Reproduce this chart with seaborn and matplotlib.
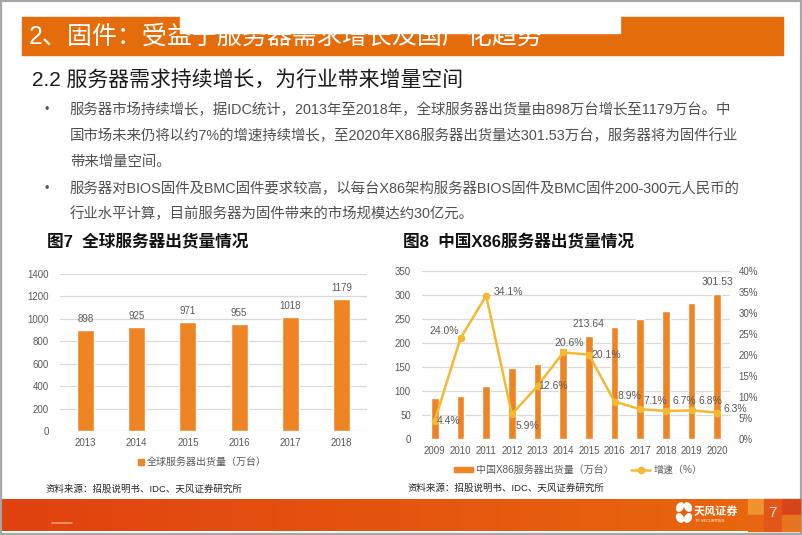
import numpy as np
import matplotlib.pyplot as plt
import seaborn as sns
from matplotlib.patches import Rectangle, Patch, Ellipse
from matplotlib.lines import Line2D
from matplotlib.colors import LinearSegmentedColormap
from matplotlib.ticker import PercentFormatter

sns.set_theme(style="white")
# theme resets the family, so set the fallback list afterwards
plt.rcParams["font.family"] = ["Liberation Sans", "Noto Sans CJK SC", "DejaVu Sans"]

# --- data ---
global_years = ["2013", "2014", "2015", "2016", "2017", "2018"]
global_units = [898, 925, 971, 955, 1018, 1179]

cn_years = ["2009", "2010", "2011", "2012", "2013", "2014",
            "2015", "2016", "2017", "2018", "2019", "2020"]
cn_units = [86, 89, 110, 148, 157, 189, 213.64, 232.7, 249.2, 265.9, 284.0, 301.53]
cn_unit_labels = ["", "", "", "", "", "", "213.64", "", "", "", "", "301.53"]
cn_growth = [4.4, 24.0, 34.1, 5.9, 12.6, 20.6, 20.1, 8.9, 7.1, 6.7, 6.8, 6.3]

title = "2、固件：受益于服务器需求增长及国产化趋势"
subtitle = "2.2 服务器需求持续增长，为行业带来增量空间"
bullet_lines = [
    "服务器市场持续增长，据IDC统计，2013年至2018年，全球服务器出货量由898万台增长至1179万台。中",
    "国市场未来仍将以约7%的增速持续增长，至2020年X86服务器出货量达301.53万台，服务器将为固件行业",
    "带来增量空间。",
    "服务器对BIOS固件及BMC固件要求较高，以每台X86架构服务器BIOS固件及BMC固件200-300元人民币的",
    "行业水平计算，目前服务器为固件带来的市场规模达约30亿元。",
]
source = "资料来源：招股说明书、IDC、天风证券研究所"

# colours
orange = "#EF8425"
gold = "#F4B932"
gray = "#595959"
grid_c = "#D9D9D9"

W, H = 802, 535
fig = plt.figure(figsize=(W / 100, H / 100), dpi=100)


def box(l, t, r, b):
    # pixel box (top-left origin) -> figure fraction rect
    return [l / W, 1 - b / H, (r - l) / W, (b - t) / H]


# background layer in pixel coords
bg = fig.add_axes([0, 0, 1, 1], zorder=-5)
bg.set_xlim(0, W)
bg.set_ylim(H, 0)
bg.axis("off")

bg.add_patch(Rectangle((0.8, 0.8), W - 1.6, H - 1.6, fill=False, ec="#A6A6A6", lw=1.6))

# header bar (with the white box hiding part of the text, as on the slide)
bg.add_patch(Rectangle((22, 17), 761, 38, color="#E46C0A", zorder=1))
bg.text(29, 37, title, color="white", fontsize=18, va="center", zorder=2)
bg.add_patch(Rectangle((180, 16), 440, 16.5, color="white", zorder=3))

bg.text(32, 80, subtitle, color="#1A1A1A", fontsize=15, va="center")

line_y = [110, 136, 162, 189, 214]
for i, (txt, y) in enumerate(zip(bullet_lines, line_y)):
    if i in (0, 3):
        bg.text(47, y, "•", color=gray, fontsize=9, va="center", ha="center")
    bg.text(70, y, txt, color="#505050", fontsize=10.4, va="center")

bg.text(47, 242, "图7  全球服务器出货量情况", fontsize=12, fontweight="bold", va="center", color="#111111")
bg.text(403, 242, "图8  中国X86服务器出货量情况", fontsize=12, fontweight="bold", va="center", color="#111111")
bg.text(46, 489, source, fontsize=6.8, va="center", color="#262626")
bg.text(407, 488, source, fontsize=6.8, va="center", color="#262626")

# footer band
cmap = LinearSegmentedColormap.from_list("foot", ["#E1420F", "#E55510", "#E9690C"])
bg.imshow(np.linspace(0, 1, 256)[None, :], cmap=cmap, extent=[2, 800, 531, 499], aspect="auto", zorder=1)
bg.plot([52, 72], [523, 523], color="#F4A070", lw=1.2, zorder=2)
for x0, y0, w, h, c in [(748, 499, 16, 16, "#F0922E"), (748, 515, 16, 16, "#E86514"),
                        (764, 499, 18, 32, "#E3561A"), (782, 499, 18, 16, "#D9451A"),
                        (782, 515, 18, 16, "#E8741E")]:
    bg.add_patch(Rectangle((x0, y0), w, h, color=c, zorder=2))
bg.text(772, 513, "7", color="#FBE3CF", fontsize=11, ha="center", va="center", zorder=3)
for cx, cy, ew, eh, ang in [(680, 507, 6, 9, 30), (688, 507, 6, 9, -30),
                            (680, 518, 6, 9, -30), (688, 518, 6, 9, 30)]:
    bg.add_patch(Ellipse((cx, cy), ew, eh, angle=ang, color="white", zorder=3))
bg.text(694, 511, "天风证券", color="white", fontsize=8, fontweight="bold", va="center", zorder=3)
bg.text(695, 521, "TF SECURITIES", color="white", fontsize=2.8, va="center", zorder=3)

# --- chart 7: global shipments ---
ax1 = fig.add_axes(box(60, 274, 367, 431))
sns.barplot(x=global_years, y=global_units, color=orange, saturation=1, width=0.33, ax=ax1)
ax1.set_xlim(-0.5, len(global_years) - 0.5)
ax1.set_ylim(0, 1400)
ax1.set_yticks(range(0, 1401, 200))
ax1.grid(axis="y", color=grid_c, lw=0.9)
ax1.set_axisbelow(True)
for s in ax1.spines.values():
    s.set_visible(False)
ax1.tick_params(axis="both", length=0, labelsize=7, labelcolor=gray)
ax1.tick_params(axis="y", pad=8)
ax1.tick_params(axis="x", pad=5)
ax1.set_xlabel("")
ax1.set_ylabel("")
for i, v in enumerate(global_units):
    ax1.annotate(f"{v}", (i, v), xytext=(0, 11), textcoords="offset pixels",
                 ha="center", va="center", fontsize=7, color=gray)

fig.legend([Line2D([], [], marker="s", ls="none", color=orange, markersize=5)],
           ["全球服务器出货量（万台）"], loc="center", bbox_to_anchor=(202 / W, 1 - 462 / H),
           frameon=False, fontsize=7.2, labelcolor=gray, handletextpad=0.2, handlelength=0.8)

# --- chart 8: China X86 shipments + growth ---
ax2 = fig.add_axes(box(422, 271, 730, 439))
sns.barplot(x=cn_years, y=cn_units, color=orange, saturation=1, width=0.31, ax=ax2)
ax2.set_ylim(0, 350)
ax2.set_yticks(range(0, 351, 50))
ax2.grid(axis="y", color=grid_c, lw=0.9)
ax2.set_axisbelow(True)
for s in ax2.spines.values():
    s.set_visible(False)
ax2.tick_params(axis="both", length=0, labelsize=7, labelcolor=gray)
ax2.tick_params(axis="y", pad=8)
ax2.tick_params(axis="x", pad=5)
ax2.set_xlabel("")
ax2.set_ylabel("")
for i, (v, lab) in enumerate(zip(cn_units, cn_unit_labels)):
    if lab:
        ax2.annotate(lab, (i, v), xytext=(0, 12), textcoords="offset pixels",
                     ha="center", va="center", fontsize=7.5, color=gray)

ax2r = ax2.twinx()
growth = np.array(cn_growth) / 100
sns.lineplot(x=np.arange(len(cn_years)), y=growth, ax=ax2r, color=gold, lw=1.8,
             marker="o", markersize=5.5, markeredgewidth=0)
ax2.set_xlim(-0.5, len(cn_years) - 0.5)
ax2r.set_ylim(0, 0.40)
ax2r.set_yticks(np.arange(0, 0.401, 0.05))
ax2r.yaxis.set_major_formatter(PercentFormatter(1, decimals=0))
ax2r.grid(False)
for s in ax2r.spines.values():
    s.set_visible(False)
ax2r.tick_params(axis="y", length=0, labelsize=7, labelcolor=gray, pad=6)
ax2r.set_ylabel("")

growth_offsets = [(14, 0), (-16, 7), (22, 4), (16, -12), (16, 0), (6, 9),
                  (17, 0), (15, 6), (15, 8), (18, 10), (19, 9), (18, 4)]
for i, (g, off) in enumerate(zip(cn_growth, growth_offsets)):
    ax2r.annotate(f"{g:.1f}%", (i, g / 100), xytext=off, textcoords="offset pixels",
                  ha="center", va="center", fontsize=7.5, color=gray)

fig.legend([Patch(color=orange),
            Line2D([], [], color=gold, lw=1.8, marker="o", markersize=4.5)],
           ["中国X86服务器出货量（万台）", "增速（%）"], loc="center",
           bbox_to_anchor=(578 / W, 1 - 470 / H), ncol=2, frameon=False, fontsize=7.2,
           labelcolor=gray, handlelength=1.9, handleheight=0.5, handletextpad=0.3, columnspacing=1.8)

fig.savefig("out.png", dpi=100)
